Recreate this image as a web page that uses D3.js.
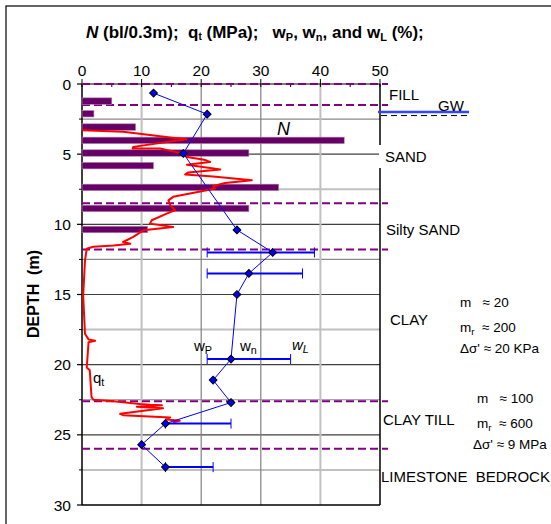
<!DOCTYPE html>
<html><head><meta charset="utf-8">
<script src="https://cdn.jsdelivr.net/npm/d3@7"></script>
<style>
body{margin:0;background:#fff;}
svg{display:block;font-family:Arial,"Liberation Sans",sans-serif;}
text{white-space:pre;}
</style></head>
<body><svg id="c" width="551" height="524"></svg>
<script>
// ---- data ----
const xTicks = [0, 10, 20, 30, 40, 50];
const xMinorTicks = [5, 15, 25, 35, 45];
const depthTicks = [0, 5, 10, 15, 20, 25, 30];
const depthMinorTicks = [2.5, 7.5, 12.5, 17.5, 22.5, 27.5];
const layerBounds = [0, 1.5, 8.5, 11.8, 22.6, 26.0];
const gwDepth = 2.0;

// SPT N (bl/0.3m)
const nDepths = [1.2, 2.1, 3.05, 4.0, 4.9, 5.8, 7.35, 8.85, 10.35];
const nValues = [5, 2, 9, 44, 28, 12, 33, 28, 11];

// natural water content wn (%)
const wnDepths = [0.65, 2.15, 4.95, 10.4, 12.0, 13.5, 15.0, 19.6, 21.1, 22.7, 24.2, 25.7, 27.3];
const wnValues = [12, 21, 17, 26, 32, 28, 26, 25, 22, 25, 14, 10, 14];

// Atterberg limits
const limDepths = [12.0, 13.5, 19.6, 24.2, 27.3];
const wpValues = [21, 21, 21, 14, 14];
const wlValues = [39, 37, 35, 25, 22];

// cone resistance qt (MPa)
const qtDepths = [3.3, 3.4, 3.64, 3.81, 3.93, 4.48, 4.6, 4.6, 4.8, 4.95, 5.2, 5.4, 5.55, 5.75, 6.0, 6.1, 6.3, 6.45, 6.6, 6.86, 7.05, 7.29, 7.45, 7.6, 8.04, 8.29, 8.64, 9.0, 9.24, 9.71, 9.95, 10.19, 10.43, 10.9, 11.26, 11.38, 11.5, 11.6, 11.74, 12.57, 15.07, 17.8, 18.2, 18.3, 18.4, 20.2, 20.4, 22.3, 22.5, 22.6, 22.8, 22.86, 22.9, 23.0, 23.1, 23.5, 23.6, 23.76, 23.9, 24.0, 24.1];
const qtValues = [0, 6.9, 11.4, 14.8, 17.5, 8.6, 8.5, 13.1, 15.3, 17.0, 17.6, 20.5, 21.5, 17.6, 21.8, 23.2, 17.8, 17.3, 22, 28.5, 24, 22, 22.3, 20.5, 15.3, 14.5, 14.8, 15.6, 14.2, 11.7, 11.4, 15.3, 10.3, 8.6, 6.9, 8.1, 5.3, 1.9, 0.8, 0.5, 0.2, 0.5, 1.1, 2.2, 1.1, 0.8, 1.3, 1.6, 1.9, 5.3, 9.7, 11.4, 13.4, 9.2, 13.6, 6.4, 6.9, 14.8, 14.2, 16.4, 15.3];

// ---- drawing ----
const svg = d3.select("#c");
const x = d3.scaleLinear().domain([0, 50]).range([82, 380]);
const y = d3.scaleLinear().domain([0, 30]).range([84, 505]);

// outer frame (only top/left visible)
svg.append("rect").attr("x", 6).attr("y", 6).attr("width", 600).attr("height", 600)
  .attr("fill", "none").attr("stroke", "#000").attr("stroke-width", 1.2);

// grid
const g = svg.append("g");
depthMinorTicks.forEach((d, i) => {
  g.append("line").attr("x1", x(0)).attr("x2", x(50)).attr("y1", y(d)).attr("y2", y(d))
    .attr("stroke", i % 2 === 0 ? "#8a8a8a" : "#c0c0c0").attr("stroke-width", i % 2 === 0 ? 1.2 : 2);
});
depthTicks.filter(d => d > 0 && d < 30).forEach(d => {
  g.append("line").attr("x1", x(0)).attr("x2", x(50)).attr("y1", y(d)).attr("y2", y(d))
    .attr("stroke", "#404040").attr("stroke-width", 1.2);
});
xTicks.filter(v => v > 0 && v < 50).forEach(v => {
  const light = (v === 10 || v === 40);
  g.append("line").attr("x1", x(v)).attr("x2", x(v)).attr("y1", y(0)).attr("y2", y(30))
    .attr("stroke", light ? "#c0c0c0" : "#808080").attr("stroke-width", light ? 2 : 1.2);
});

// axes lines
svg.append("line").attr("x1", x(0)).attr("x2", x(0)).attr("y1", y(0)).attr("y2", y(30)).attr("stroke", "#000").attr("stroke-width", 1.5);
svg.append("line").attr("x1", x(0)).attr("x2", x(50)).attr("y1", y(30)).attr("y2", y(30)).attr("stroke", "#000").attr("stroke-width", 1.5);
svg.append("line").attr("x1", x(50)).attr("x2", x(50)).attr("y1", y(0)).attr("y2", y(30)).attr("stroke", "#000").attr("stroke-width", 1.5);
svg.append("line").attr("x1", x(0)).attr("x2", x(50)).attr("y1", y(0)).attr("y2", y(0)).attr("stroke", "#000").attr("stroke-width", 1);

// top axis ticks and labels
xTicks.forEach(v => {
  svg.append("line").attr("x1", x(v)).attr("x2", x(v)).attr("y1", y(0) - 5).attr("y2", y(0) + 3).attr("stroke", "#000");
  svg.append("text").attr("x", x(v)).attr("y", 76).attr("text-anchor", "middle").attr("font-size", 15.5).text(v);
});
xMinorTicks.forEach(v => {
  svg.append("line").attr("x1", x(v)).attr("x2", x(v)).attr("y1", y(0)).attr("y2", y(0) + 3).attr("stroke", "#000");
});
// left axis ticks and labels
depthTicks.forEach(d => {
  svg.append("line").attr("x1", x(0) - 5).attr("x2", x(0)).attr("y1", y(d)).attr("y2", y(d)).attr("stroke", "#000").attr("stroke-width", 1.2);
  svg.append("text").attr("x", 71).attr("y", y(d) + 5.5).attr("text-anchor", "end").attr("font-size", 15.5).text(d);
});
depthMinorTicks.forEach(d => {
  svg.append("line").attr("x1", x(0) - 3).attr("x2", x(0)).attr("y1", y(d)).attr("y2", y(d)).attr("stroke", "#000");
});

// white background under SAND label (cuts right axis)
svg.append("rect").attr("x", 379).attr("y", 145).attr("width", 50).attr("height", 23).attr("fill", "#fff");

// layer boundaries
layerBounds.forEach(d => {
  svg.append("line").attr("x1", x(0)).attr("x2", 388).attr("y1", y(d)).attr("y2", y(d))
    .attr("stroke", "#800080").attr("stroke-width", 2).attr("stroke-dasharray", "8,4");
});

// N bars
nDepths.forEach((d, i) => {
  svg.append("rect").attr("x", x(0)).attr("y", y(d) - 3).attr("width", x(nValues[i]) - x(0)).attr("height", 6.5)
    .attr("fill", "#660066").attr("stroke", "#b088b0").attr("stroke-width", 0.6);
});

// qt line
svg.append("path").datum(qtDepths.map((d, i) => [qtValues[i], d]))
  .attr("d", d3.line().x(p => x(p[0])).y(p => y(p[1])))
  .attr("fill", "none").attr("stroke", "#ff0000").attr("stroke-width", 2).attr("stroke-linejoin", "round");

// Atterberg limit bars
limDepths.forEach((d, i) => {
  svg.append("line").attr("x1", x(wpValues[i])).attr("x2", x(wlValues[i])).attr("y1", y(d)).attr("y2", y(d))
    .attr("stroke", "#0000ff").attr("stroke-width", 2);
  [wpValues[i], wlValues[i]].forEach(v => {
    svg.append("line").attr("x1", x(v)).attr("x2", x(v)).attr("y1", y(d) - 5).attr("y2", y(d) + 5)
      .attr("stroke", "#0000ff").attr("stroke-width", 1);
  });
});

// wn line + markers
svg.append("path").datum(wnDepths.map((d, i) => [wnValues[i], d]))
  .attr("d", d3.line().x(p => x(p[0])).y(p => y(p[1])))
  .attr("fill", "none").attr("stroke", "#0000ff").attr("stroke-width", 1);
const diamond = d3.symbol().type(d3.symbolSquare).size(30);
wnDepths.forEach((d, i) => {
  svg.append("path").attr("d", diamond()).attr("transform", `translate(${x(wnValues[i])},${y(d)}) rotate(45)`)
    .attr("fill", "#0000ff").attr("stroke", "#000").attr("stroke-width", 1);
});

// groundwater
svg.append("line").attr("x1", 378).attr("x2", 469).attr("y1", y(gwDepth)).attr("y2", y(gwDepth)).attr("stroke", "#3344ff").attr("stroke-width", 2.5);
svg.append("line").attr("x1", 381).attr("x2", 468).attr("y1", y(gwDepth) + 3.5).attr("y2", y(gwDepth) + 3.5).attr("stroke", "#000").attr("stroke-width", 1).attr("stroke-dasharray", "6,4");

// title
const title = svg.append("text").attr("x", 86).attr("y", 38).attr("font-size", 17).attr("font-weight", "bold");
title.append("tspan").attr("font-style", "italic").text("N");
title.append("tspan").text(" (bl/0.3m);  q");
title.append("tspan").attr("font-size", 10).attr("dy", 2).text("t");
title.append("tspan").attr("dy", -2).text(" (MPa);   w");
title.append("tspan").attr("font-size", 11).attr("dy", 3).text("P");
title.append("tspan").attr("dy", -3).text(", w");
title.append("tspan").attr("font-size", 11).attr("dy", 3).text("n");
title.append("tspan").attr("dy", -3).text(", and w");
title.append("tspan").attr("font-size", 11).attr("dy", 3).text("L");
title.append("tspan").attr("dy", -3).text(" (%);");

// y axis label
svg.append("text").attr("transform", "translate(39,294) rotate(-90)").attr("text-anchor", "middle")
  .attr("font-size", 16).attr("font-weight", "bold").text("DEPTH  (m)");

// annotations
function txt(xp, yp, s, size, opts) {
  const t = svg.append("text").attr("x", xp).attr("y", yp).attr("font-size", size || 15);
  if (opts && opts.italic) t.attr("font-style", "italic");
  t.text(s);
  return t;
}
txt(389, 100, "FILL");
txt(438, 111, "GW");
txt(385, 162, "SAND");
txt(386, 235, "Silty SAND");
txt(390, 325, "CLAY");
txt(383, 425, "CLAY TILL");
txt(381, 482, "LIMESTONE  BEDROCK");
txt(277, 135, "N", 18, {italic: true});

function subText(xp, yp, base, sub, size, italic) {
  const t = svg.append("text").attr("x", xp).attr("y", yp).attr("font-size", size);
  if (italic) t.attr("font-style", "italic");
  t.append("tspan").text(base);
  t.append("tspan").attr("font-size", size * 0.72).attr("dy", 3).text(sub);
  return t;
}
subText(194, 351, "w", "P", 15);
subText(240, 351, "w", "n", 15);
subText(292, 350, "w", "L", 15, true);
subText(93, 383, "q", "t", 15);

txt(460, 307, "m   ≈ 20", 13.5);
const mr1 = subText(460, 332, "m", "r", 13.5);
mr1.append("tspan").attr("dy", -3).text("  ≈ 200");
txt(460, 353, "Δσ' ≈ 20 KPa", 13.5);
txt(477, 403, "m   ≈ 100", 13.5);
const mr2 = subText(477, 428, "m", "r", 13.5);
mr2.append("tspan").attr("dy", -3).text("  ≈ 600");
txt(473, 449, "Δσ' ≈ 9 MPa", 13.5);
</script></body></html>
